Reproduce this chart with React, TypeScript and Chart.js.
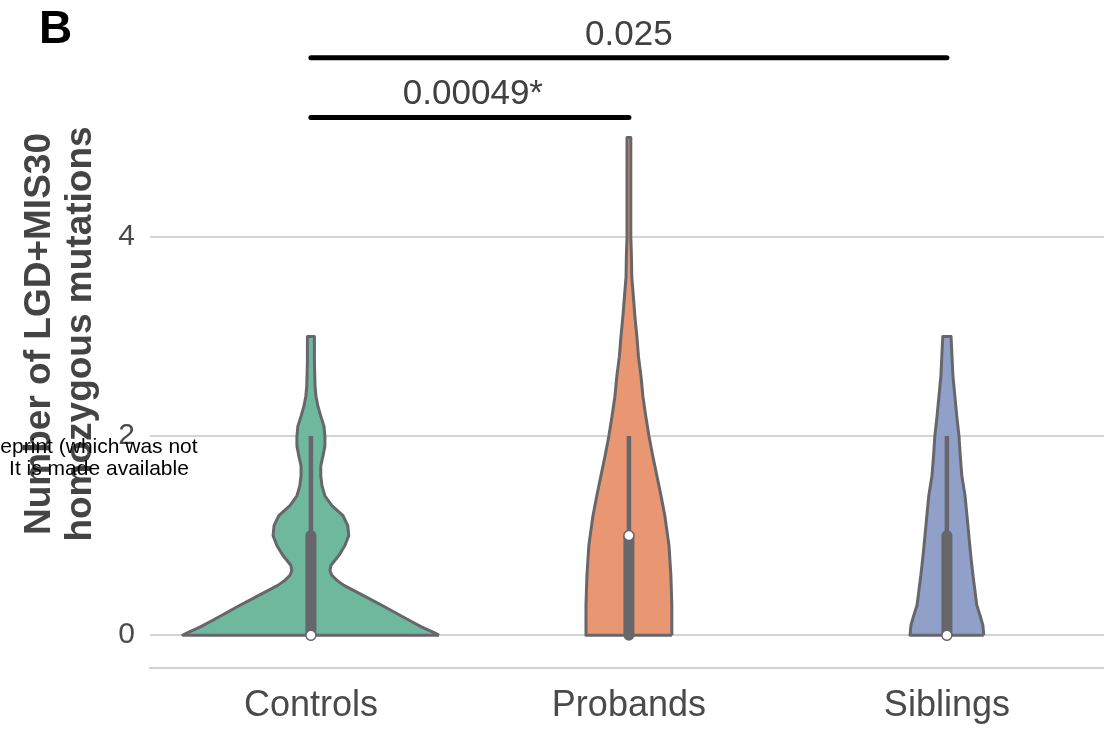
import { useEffect, useRef } from 'react';
import { Chart, registerables } from 'chart.js';

Chart.register(...registerables);

const FONT = "'Liberation Sans', Arial, Helvetica, sans-serif";

const categories = ['Controls', 'Probands', 'Siblings'];
const yTicks = [0, 2, 4];
const yTitle = ['Number of LGD+MIS30', 'homozygous mutations'];
const panelLabel = 'B';
const watermarkLines = ['eprint (which was not', 'It is made available'];

// Violin outlines: y levels and half-widths (category units)
const controlsLevels = [0, 0.03, 0.08, 0.2, 0.3, 0.4, 0.5, 0.55, 0.6, 0.65, 0.7, 0.75, 0.8, 0.9, 1.0, 1.1, 1.2, 1.3, 1.4, 1.5, 1.6, 1.7, 1.8, 1.9, 2.0, 2.1, 2.2, 2.3, 2.4, 2.5, 2.75, 3.0];
const controlsHalfWidths = [0.403, 0.384, 0.349, 0.280, 0.223, 0.164, 0.104, 0.082, 0.066, 0.060, 0.063, 0.075, 0.088, 0.107, 0.119, 0.116, 0.101, 0.066, 0.044, 0.035, 0.031, 0.031, 0.038, 0.044, 0.044, 0.041, 0.031, 0.022, 0.016, 0.013, 0.011, 0.011];

const probandsLevels = [0, 0.3, 0.6, 0.9, 1.2, 1.4, 1.6, 1.8, 2.0, 2.2, 2.4, 2.6, 2.8, 3.0, 3.2, 3.4, 3.6, 3.8, 4.0, 4.5, 5.0];
const probandsHalfWidths = [0.135, 0.135, 0.132, 0.126, 0.113, 0.101, 0.088, 0.075, 0.063, 0.053, 0.044, 0.038, 0.030, 0.025, 0.019, 0.014, 0.009, 0.008, 0.006, 0.006, 0.006];

const siblingsLevels = [0, 0.1, 0.2, 0.3, 0.45, 0.6, 0.8, 1.0, 1.2, 1.4, 1.6, 1.8, 2.0, 2.2, 2.4, 2.6, 2.8, 3.0];
const siblingsHalfWidths = [0.116, 0.113, 0.104, 0.094, 0.088, 0.082, 0.075, 0.069, 0.063, 0.057, 0.047, 0.042, 0.038, 0.031, 0.025, 0.019, 0.016, 0.013];

// Inner box statistics
const whiskerLow = [0, 0, 0];
const whiskerHigh = [2, 2, 2];
const q1 = [0, 0, 0];
const q3 = [1, 1, 1];
const medians = [0, 1, 0];

// Significance brackets
const sigPairs = [[0, 1], [0, 2]];
const sigHeights = [5.2, 5.8];
const sigLabels = ['0.00049*', '0.025'];

const violinColors = ['rgb(110,185,157)', 'rgb(233,150,115)', 'rgb(144,160,200)'];
const GRAY = '#67676b';

const violinLevels = [controlsLevels, probandsLevels, siblingsLevels];
const violinHalfWidths = [controlsHalfWidths, probandsHalfWidths, siblingsHalfWidths];

function violinPolygon(center: number, levels: number[], hw: number[]) {
  const pts: { x: number; y: number }[] = [];
  for (let i = 0; i < levels.length; i++) pts.push({ x: center + hw[i], y: levels[i] });
  for (let i = levels.length - 1; i >= 0; i--) pts.push({ x: center - hw[i], y: levels[i] });
  pts.push({ x: center + hw[0], y: levels[0] });
  return pts;
}

const annotPlugin = {
  id: 'annot',
  afterDraw(chart: any) {
    const { ctx, scales } = chart;
    const x = scales.x;
    const y = scales.y;
    ctx.save();
    ctx.font = `35px ${FONT}`;
    ctx.fillStyle = '#404040';
    ctx.textAlign = 'center';
    ctx.textBaseline = 'alphabetic';
    sigPairs.forEach(([a, b], i) => {
      const cx = (x.getPixelForValue(a) + x.getPixelForValue(b)) / 2;
      const py = y.getPixelForValue(sigHeights[i]);
      ctx.fillText(sigLabels[i], cx + (i === 0 ? 3 : 0), py - 13);
    });
    ctx.font = `bold 46px ${FONT}`;
    ctx.fillStyle = '#000';
    ctx.textAlign = 'left';
    ctx.fillText(panelLabel, 39, 43);
    ctx.font = `21px ${FONT}`;
    ctx.textAlign = 'center';
    ctx.fillText(watermarkLines[0], 99, 453);
    ctx.fillText(watermarkLines[1], 99, 475);
    ctx.restore();
  },
};

export default function App() {
  const ref = useRef<HTMLCanvasElement>(null);
  useEffect(() => {
    document.body.style.margin = '0';
    const canvas = ref.current!;
    const datasets: any[] = [];

    categories.forEach((_, c) => {
      datasets.push({
        label: categories[c] + ' violin',
        data: violinPolygon(c, violinLevels[c], violinHalfWidths[c]),
        borderColor: GRAY,
        borderWidth: 3,
        borderJoinStyle: 'round',
        backgroundColor: violinColors[c],
        fill: 'shape',
        pointRadius: 0,
        tension: 0.001,
        order: 5,
      });
      datasets.push({
        label: categories[c] + ' whisker',
        data: [{ x: c, y: whiskerLow[c] }, { x: c, y: whiskerHigh[c] }],
        borderColor: GRAY,
        borderWidth: 4.5,
        borderCapStyle: 'butt',
        pointRadius: 0,
        tension: 0.001,
        fill: false,
        order: 4,
      });
      datasets.push({
        label: categories[c] + ' box',
        data: [{ x: c, y: q1[c] }, { x: c, y: q3[c] }],
        borderColor: GRAY,
        borderWidth: 11,
        borderCapStyle: 'round',
        pointRadius: 0,
        tension: 0.001,
        fill: false,
        order: 3,
      });
      datasets.push({
        label: categories[c] + ' median',
        data: [{ x: c, y: medians[c] }],
        showLine: false,
        pointRadius: 5,
        pointBackgroundColor: '#ffffff',
        pointBorderColor: GRAY,
        pointBorderWidth: 1.5,
        fill: false,
        order: 2,
      });
    });

    sigPairs.forEach(([a, b], i) => {
      datasets.push({
        label: sigLabels[i],
        data: [{ x: a, y: sigHeights[i] }, { x: b, y: sigHeights[i] }],
        borderColor: '#000000',
        borderWidth: 5,
        borderCapStyle: 'round',
        pointRadius: 0,
        fill: false,
        order: 1,
      });
    });

    const chart = new Chart(canvas, {
      type: 'line',
      data: { datasets },
      options: {
        animation: false,
        responsive: false,
        devicePixelRatio: 1,
        indexAxis: 'y',
        layout: { padding: 0, autoPadding: false },
        plugins: {
          legend: { display: false },
          tooltip: { enabled: false },
        },
        scales: {
          x: {
            type: 'linear',
            min: -0.506,
            max: 2.494,
            afterBuildTicks: (s: any) => {
              s.ticks = categories.map((_, i) => ({ value: i }));
            },
            afterFit: (s: any) => {
              s.height = 61;
              s.paddingLeft = 0;
              s.paddingRight = 0;
              s.paddingTop = 0;
              s.paddingBottom = 0;
            },
            grid: { display: false, drawTicks: false },
            border: { display: true, color: '#d2d2d2', width: 2 },
            ticks: {
              padding: 16,
              color: '#4a4a4a',
              autoSkip: false,
              maxRotation: 0,
              font: { family: FONT, size: 36 },
              callback: (v: any) => categories[Math.round(Number(v))] ?? '',
            },
          },
          y: {
            type: 'linear',
            min: -0.33,
            max: 6.38,
            afterBuildTicks: (s: any) => {
              s.ticks = yTicks.map((v) => ({ value: v }));
            },
            afterFit: (s: any) => {
              s.width = 150;
              s.paddingLeft = 0;
              s.paddingRight = 0;
              s.paddingTop = 0;
              s.paddingBottom = 0;
            },
            grid: { color: '#d4d4d4', lineWidth: 2, drawTicks: false },
            border: { display: false },
            ticks: {
              padding: 15,
              color: '#4a4a4a',
              font: { family: FONT, size: 30 },
              callback: (v: any) => String(v),
            },
            title: {
              display: true,
              text: yTitle,
              color: '#444444',
              font: { family: FONT, size: 37, weight: 'bold', lineHeight: 41 / 37 },
              padding: { top: 19, bottom: 0 },
            },
          },
        },
      } as any,
      plugins: [annotPlugin],
    });
    return () => chart.destroy();
  }, []);
  return <canvas ref={ref} width={1104} height={729} style={{ display: 'block' }} />;
}
